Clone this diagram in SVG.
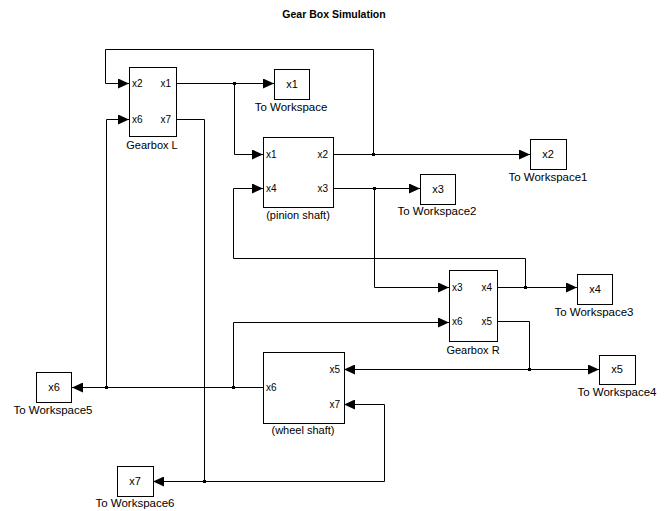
<svg xmlns="http://www.w3.org/2000/svg" width="667" height="511" viewBox="0 0 667 511">
<defs>
<marker id="arr" markerUnits="userSpaceOnUse" markerWidth="11" markerHeight="10" refX="11" refY="5" orient="auto">
<path d="M0,0 L11,5 L0,10 z" fill="#000"/>
</marker>
<style>
.blk{fill:#fff;stroke:#000;stroke-width:1}
.w{fill:none;stroke:#000;stroke-width:1}
.a{marker-end:url(#arr)}
.t{font-family:"Liberation Sans",Arial,sans-serif;font-size:11.5px;fill:#000;text-anchor:middle}
.p{font-family:"Liberation Sans",Arial,sans-serif;font-size:10px;fill:#000}
.pr{text-anchor:end}
.c{font-family:"Liberation Sans",Arial,sans-serif;font-size:11px;fill:#000;text-anchor:middle}
.title{font-family:"Liberation Sans",Arial,sans-serif;font-size:10.5px;font-weight:bold;fill:#000;text-anchor:middle}
.j{fill:#000}
</style>
</defs>
<rect width="667" height="511" fill="#fff"/>
<text class="title" x="334" y="18">Gear Box Simulation</text>

<g id="connectors">
<path class="w a" d="M176.5,83.5 H274"/>
<path class="w a" d="M234.5,83.5 V154.5 H263"/>
<path class="w a" d="M333.5,154.5 H530"/>
<path class="w a" d="M373.5,154.5 V49.5 H105.5 V83.5 H129"/>
<path class="w a" d="M333.5,188.5 H420"/>
<path class="w a" d="M374.5,188.5 V287.5 H449"/>
<path class="w a" d="M497.5,287.5 H577"/>
<path class="w a" d="M525.5,287.5 V258.5 H233.5 V188.5 H263"/>
<path class="w a" d="M497.5,321.5 H529.5 V369.5 H599"/>
<path class="w a" d="M529.5,369.5 H344"/>
<path class="w a" d="M263,387.5 H72"/>
<path class="w a" d="M233.5,387.5 V322.5 H449"/>
<path class="w a" d="M106.5,387.5 V119.5 H129"/>
<path class="w a" d="M176.5,119.5 H204.5 V481.5 H153"/>
<path class="w a" d="M204.5,481.5 H384.5 V404.5 H344"/>
<rect class="j" x="233" y="82" width="3" height="3"/>
<rect class="j" x="372" y="153" width="3" height="3"/>
<rect class="j" x="373" y="187" width="3" height="3"/>
<rect class="j" x="524" y="286" width="3" height="3"/>
<rect class="j" x="528" y="368" width="3" height="3"/>
<rect class="j" x="232" y="386" width="3" height="3"/>
<rect class="j" x="105" y="386" width="3" height="3"/>
<rect class="j" x="203" y="480" width="3" height="3"/>
</g>

<g id="gearboxL">
<rect class="blk" x="129.5" y="67.5" width="47" height="69"/>
<text class="p" x="132" y="87">x2</text>
<text class="p" x="132" y="123">x6</text>
<text class="p pr" x="171" y="87">x1</text>
<text class="p pr" x="171" y="123">x7</text>
<text class="c" x="152" y="149">Gearbox L</text>
</g>

<g id="pinion">
<rect class="blk" x="263.5" y="137.5" width="70" height="70"/>
<text class="p" x="266" y="158">x1</text>
<text class="p" x="266" y="192">x4</text>
<text class="p pr" x="328" y="158">x2</text>
<text class="p pr" x="328" y="192">x3</text>
<text class="c" x="298" y="219">(pinion shaft)</text>
</g>

<g id="gearboxR">
<rect class="blk" x="449.5" y="270.5" width="48" height="71"/>
<text class="p" x="452" y="291">x3</text>
<text class="p" x="452" y="325">x6</text>
<text class="p pr" x="492" y="291">x4</text>
<text class="p pr" x="492" y="325">x5</text>
<text class="c" x="473" y="354">Gearbox R</text>
</g>

<g id="wheel">
<rect class="blk" x="263.5" y="352.5" width="81" height="71"/>
<text class="p" x="266" y="391">x6</text>
<text class="p pr" x="340" y="373">x5</text>
<text class="p pr" x="340" y="408">x7</text>
<text class="c" x="303" y="434">(wheel shaft)</text>
</g>

<g id="tw">
<rect class="blk" x="274.5" y="69.5" width="35" height="30"/>
<text class="c" x="292" y="88">x1</text>
<text class="t" x="291" y="111">To Workspace</text>
</g>
<g id="tw1">
<rect class="blk" x="530.5" y="139.5" width="36" height="30"/>
<text class="c" x="548" y="158">x2</text>
<text class="t" x="548" y="181">To Workspace1</text>
</g>
<g id="tw2">
<rect class="blk" x="420.5" y="174.5" width="35" height="30"/>
<text class="c" x="438" y="193">x3</text>
<text class="t" x="437" y="215">To Workspace2</text>
</g>
<g id="tw3">
<rect class="blk" x="577.5" y="274.5" width="35" height="30"/>
<text class="c" x="595" y="293">x4</text>
<text class="t" x="594" y="316">To Workspace3</text>
</g>
<g id="tw4">
<rect class="blk" x="599.5" y="355.5" width="36" height="29"/>
<text class="c" x="617" y="373">x5</text>
<text class="t" x="617" y="396">To Workspace4</text>
</g>
<g id="tw5">
<rect class="blk" x="36.5" y="372.5" width="35" height="30"/>
<text class="c" x="54" y="391">x6</text>
<text class="t" x="53" y="414">To Workspace5</text>
</g>
<g id="tw6">
<rect class="blk" x="117.5" y="466.5" width="36" height="30"/>
<text class="c" x="135" y="485">x7</text>
<text class="t" x="135" y="507">To Workspace6</text>
</g>
</svg>
